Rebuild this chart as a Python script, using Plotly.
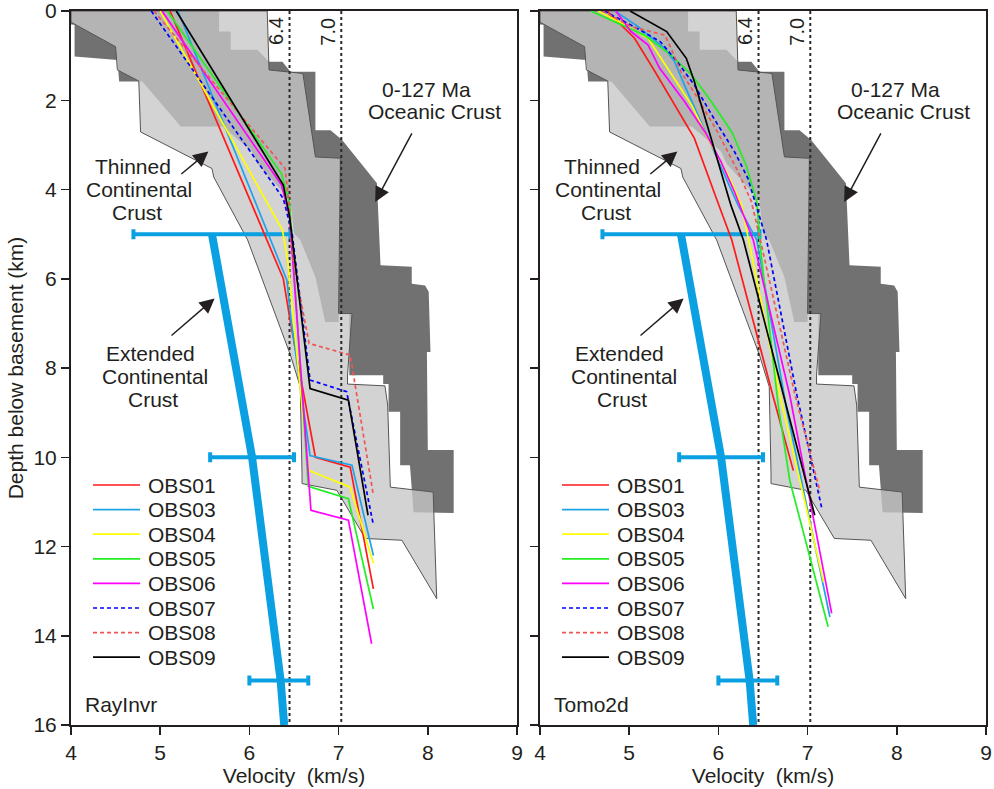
import plotly.graph_objects as go

# ---------------- data ----------------
VEL_TICKS = [4, 5, 6, 7, 8, 9]
DEPTH_TICKS = [0, 2, 4, 6, 8, 10, 12, 14, 16]

# 0-127 Ma oceanic crust envelope (velocity km/s, depth km)
OCEAN_V = [4.0, 5.66, 5.66, 5.79, 5.79, 6.09, 6.22, 6.37, 6.46, 6.74, 6.74, 6.91, 7.04, 7.43,
           7.47, 7.82, 7.82, 7.97, 8.01, 8.03, 7.99, 8.00, 8.29, 8.29, 7.84, 7.80, 7.69, 7.69,
           7.56, 7.56, 7.50, 7.50, 7.12, 7.12, 7.00, 7.00, 6.85, 6.74, 6.57, 6.50, 6.46, 6.09,
           6.03, 5.70, 5.23, 4.80, 4.54, 4.52, 4.04, 4.04, 4.0]
OCEAN_D = [0.0, 0.0, 0.46, 0.46, 0.87, 0.87, 1.14, 1.14, 1.36, 1.36, 2.67, 2.67, 2.89, 3.86,
           5.70, 5.73, 6.11, 6.15, 6.29, 7.64, 7.64, 9.84, 9.84, 11.25, 11.23, 10.18, 10.18, 8.98,
           8.98, 8.36, 8.36, 8.16, 8.16, 6.78, 6.78, 6.97, 6.97, 5.96, 5.13, 4.98, 4.24, 3.42,
           3.15, 2.59, 2.59, 1.58, 1.58, 1.10, 1.02, 0.31, 0.30]

# thinned continental crust envelope
THIN_V = [4.0, 6.20, 6.22, 6.60, 6.74, 7.02, 7.00, 7.15, 7.10, 7.10, 7.52, 7.55, 7.58, 8.06,
          8.10, 7.71, 7.30, 6.98, 6.59, 6.59, 6.57, 6.46, 5.98, 5.94, 5.60, 5.58, 4.78, 4.76,
          4.52, 4.50, 4.0, 4.0]
THIN_D = [0.0, 0.0, 1.32, 1.40, 3.27, 3.30, 6.78, 6.78, 8.16, 8.36, 8.40, 8.83, 10.67, 10.78,
          13.17, 11.86, 11.82, 10.74, 10.59, 10.37, 8.42, 7.71, 5.13, 4.98, 3.72, 3.53, 2.71, 1.57,
          1.32, 0.80, 0.25, 0.0]

# extended continental crust average and its spread
EXT_V = [5.58, 6.03, 6.35, 6.39]
EXT_D = [5, 10, 15, 16]
EXT_ERR_V = [5.58, 6.03, 6.33]
EXT_ERR_D = [5, 10, 15]
EXT_ERR = [0.88, 0.47, 0.33]

REF_X = [6.45, 7.03]
REF_LABELS = ["6.4", "7.0"]

OBS_NAMES = ["OBS01", "OBS03", "OBS04", "OBS05", "OBS06", "OBS07", "OBS08", "OBS09"]

# RayInvr profiles
RAY_OBS01_V = [5.11, 6.38, 6.46, 6.74, 7.13, 7.39]
RAY_OBS01_D = [0, 6.0, 6.97, 10.0, 10.22, 12.95]
RAY_OBS03_V = [5.20, 6.42, 6.47, 6.68, 7.15, 7.39]
RAY_OBS03_D = [0, 6.03, 6.97, 9.96, 10.18, 12.2]
RAY_OBS04_V = [5.00, 6.37, 6.43, 6.66, 7.13, 7.39]
RAY_OBS04_D = [0, 4.91, 5.6, 10.29, 10.67, 12.38]
RAY_OBS05_V = [5.08, 6.36, 6.45, 6.66, 7.11, 7.39]
RAY_OBS05_D = [0, 3.65, 4.3, 10.65, 10.93, 13.4]
RAY_OBS06_V = [5.02, 6.36, 6.45, 6.69, 7.11, 7.37]
RAY_OBS06_D = [0, 3.9, 4.6, 11.19, 11.41, 14.18]
RAY_OBS07_V = [4.90, 6.38, 6.48, 6.68, 7.09, 7.39]
RAY_OBS07_D = [0, 4.2, 5.0, 8.27, 8.53, 11.52]
RAY_OBS08_V = [4.93, 6.40, 6.44, 6.49, 6.67, 7.13, 7.39]
RAY_OBS08_D = [0, 3.53, 4.24, 5.6, 7.45, 7.71, 10.85]
RAY_OBS09_V = [5.18, 6.38, 6.45, 6.68, 7.11, 7.33]
RAY_OBS09_D = [0, 3.9, 4.6, 8.46, 8.72, 11.3]

# Tomo2d profiles
TOMO_OBS01_V = [4.75, 5.06, 5.29, 5.47, 5.73, 5.99, 6.15, 6.61, 6.84]
TOMO_OBS01_D = [0, 0.61, 1.36, 1.96, 2.85, 4.27, 5.13, 8.61, 10.3]
TOMO_OBS03_V = [4.84, 5.10, 5.40, 5.51, 5.62, 5.85, 6.07, 6.22, 6.43, 6.77, 7.25]
TOMO_OBS03_D = [0, 0.35, 0.84, 1.14, 1.66, 2.71, 3.68, 4.35, 5.13, 8.98, 13.58]
TOMO_OBS04_V = [4.65, 4.95, 5.21, 5.43, 5.70, 5.92, 6.11, 6.26, 6.34, 6.69, 7.18]
TOMO_OBS04_D = [0, 0.31, 0.61, 1.28, 2.11, 3.0, 3.68, 4.35, 5.13, 8.61, 12.8]
TOMO_OBS05_V = [4.57, 4.91, 5.17, 5.47, 5.70, 5.92, 6.15, 6.31, 6.43, 6.48, 6.67, 6.80, 7.23]
TOMO_OBS05_D = [0, 0.31, 0.54, 0.99, 1.43, 2.03, 2.71, 3.45, 4.27, 5.47, 8.83, 10.52, 13.8]
TOMO_OBS06_V = [4.85, 5.02, 5.21, 5.34, 5.62, 5.85, 6.03, 6.18, 6.39, 6.80, 7.27]
TOMO_OBS06_D = [0, 0.46, 0.76, 1.28, 2.03, 2.71, 3.38, 4.05, 5.13, 8.61, 13.5]
TOMO_OBS07_V = [4.72, 5.09, 5.35, 5.54, 5.73, 5.95, 6.18, 6.33, 6.41, 6.54, 6.88, 7.16]
TOMO_OBS07_D = [0, 0.39, 0.69, 1.14, 1.66, 2.41, 3.15, 3.75, 4.27, 5.13, 8.61, 11.15]
TOMO_OBS08_V = [4.70, 5.02, 5.40, 5.47, 5.58, 5.77, 5.99, 6.22, 6.37, 6.47, 6.86, 7.14]
TOMO_OBS08_D = [0, 0.35, 0.54, 0.84, 1.36, 1.96, 2.71, 3.60, 4.27, 5.13, 8.61, 10.78]
TOMO_OBS09_V = [5.01, 5.42, 5.64, 5.73, 6.14, 6.28, 6.73, 7.08]
TOMO_OBS09_D = [0, 0.46, 1.06, 1.58, 4.35, 5.13, 8.61, 11.3]

RAY = [(RAY_OBS01_V, RAY_OBS01_D), (RAY_OBS03_V, RAY_OBS03_D), (RAY_OBS04_V, RAY_OBS04_D),
       (RAY_OBS05_V, RAY_OBS05_D), (RAY_OBS06_V, RAY_OBS06_D), (RAY_OBS07_V, RAY_OBS07_D),
       (RAY_OBS08_V, RAY_OBS08_D), (RAY_OBS09_V, RAY_OBS09_D)]
TOMO = [(TOMO_OBS01_V, TOMO_OBS01_D), (TOMO_OBS03_V, TOMO_OBS03_D), (TOMO_OBS04_V, TOMO_OBS04_D),
        (TOMO_OBS05_V, TOMO_OBS05_D), (TOMO_OBS06_V, TOMO_OBS06_D), (TOMO_OBS07_V, TOMO_OBS07_D),
        (TOMO_OBS08_V, TOMO_OBS08_D), (TOMO_OBS09_V, TOMO_OBS09_D)]

# ---------------- styles / layout ----------------
OBS_STYLE = {
    "OBS01": ("#ff1a1a", "solid"),
    "OBS03": ("#1fa3e8", "solid"),
    "OBS04": ("#ffff00", "solid"),
    "OBS05": ("#22ee22", "solid"),
    "OBS06": ("#ff00ff", "solid"),
    "OBS07": ("#0000ff", "4px,3px"),
    "OBS08": ("#f05555", "4px,3px"),
    "OBS09": ("#000000", "solid"),
}
FONT = "Liberation Sans, Arial, Helvetica, sans-serif"
TXT = "#231f20"
BLUE = "#0aa0e2"
W, H = 994, 789

fig = go.Figure()

panels = [("x", "y", RAY, "RayInvr", 0), ("x2", "y2", TOMO, "Tomo2d", 469)]

for xa, ya, series, label, off in panels:
    fig.add_trace(go.Scatter(x=OCEAN_V, y=OCEAN_D, xaxis=xa, yaxis=ya, mode="lines",
                             fill="toself", fillcolor="#717171", line=dict(width=0),
                             showlegend=False, hoverinfo="skip"))
    fig.add_trace(go.Scatter(x=THIN_V, y=THIN_D, xaxis=xa, yaxis=ya, mode="lines",
                             fill="toself", fillcolor="rgba(199,199,199,0.78)",
                             line=dict(width=1, color="#555555"),
                             showlegend=False, hoverinfo="skip"))
    for rx in REF_X:
        fig.add_trace(go.Scatter(x=[rx, rx], y=[DEPTH_TICKS[0], DEPTH_TICKS[-1]], xaxis=xa, yaxis=ya,
                                 mode="lines", line=dict(color="#2a2a2a", width=2, dash="dot"),
                                 showlegend=False, hoverinfo="skip"))
    fig.add_trace(go.Scatter(x=EXT_V, y=EXT_D, xaxis=xa, yaxis=ya, mode="lines",
                             line=dict(color=BLUE, width=8), showlegend=False, hoverinfo="skip"))
    fig.add_trace(go.Scatter(x=EXT_ERR_V, y=EXT_ERR_D, xaxis=xa, yaxis=ya, mode="markers",
                             marker=dict(size=1, color=BLUE),
                             error_x=dict(type="data", array=EXT_ERR, color=BLUE, thickness=4, width=5),
                             showlegend=False, hoverinfo="skip"))
    for name, (v, d) in zip(OBS_NAMES, series):
        col, dash = OBS_STYLE[name]
        fig.add_trace(go.Scatter(x=v, y=d, xaxis=xa, yaxis=ya, mode="lines", name=name,
                                 line=dict(color=col, width=1.7, dash=dash), showlegend=False))
    # legend key drawn per panel (pixel layout)
    for i, name in enumerate(OBS_NAMES):
        col, dash = OBS_STYLE[name]
        py = 485 + i * 24.6
        fig.add_shape(type="line", xref="paper", yref="paper",
                      x0=(93 + off) / W, x1=(140 + off) / W, y0=1 - py / H, y1=1 - py / H,
                      line=dict(color=col, width=1.7, dash=dash))
        fig.add_annotation(x=(146 + off) / W, y=1 - py / H, xref="paper", yref="paper", text=name,
                           showarrow=False, xanchor="left", yanchor="middle",
                           font=dict(size=21, color=TXT, family=FONT))

axis_common = dict(range=[VEL_TICKS[0], VEL_TICKS[-1]], tickvals=VEL_TICKS, ticks="outside", ticklen=8,
                   tickwidth=1.5, tickcolor=TXT, showline=True, linecolor=TXT, linewidth=2, mirror=True,
                   showgrid=False, zeroline=False, automargin=False, ticklabeloverflow="allow",
                   tickfont=dict(size=21, color=TXT, family=FONT),
                   title=dict(text="Velocity\u00a0 (km/s)", font=dict(size=21, color=TXT, family=FONT), standoff=3))
yaxis_common = dict(range=[DEPTH_TICKS[-1], DEPTH_TICKS[0]], tickvals=DEPTH_TICKS, ticks="outside", ticklen=8,
                    tickwidth=1.5, tickcolor=TXT, showline=True, linecolor=TXT, linewidth=2, mirror=True,
                    showgrid=False, zeroline=False, automargin=False, ticklabeloverflow="allow",
                    tickfont=dict(size=21, color=TXT, family=FONT))

ydom = [1 - 725 / H, 1 - 11 / H]
fig.update_layout(
    width=W, height=H, margin=dict(l=0, r=0, t=0, b=0, autoexpand=False),
    paper_bgcolor="white", plot_bgcolor="white",
    font=dict(family=FONT, color=TXT),
    xaxis=dict(domain=[71 / W, 517 / W], anchor="y", **axis_common),
    xaxis2=dict(domain=[540 / W, 986 / W], anchor="y2", **axis_common),
    yaxis=dict(domain=ydom, anchor="x",
               title=dict(text="Depth below basement (km)", font=dict(size=21, color=TXT, family=FONT), standoff=4),
               **yaxis_common),
    yaxis2=dict(domain=ydom, anchor="x2", showticklabels=False, **yaxis_common),
    showlegend=False,
)

# text labels (same positions in both panels)
LABELS = [
    ("0-127 Ma", 7.99, 1.76), ("Oceanic Crust", 8.08, 2.26),
    ("Thinned", 4.70, 3.49), ("Continental", 4.76, 4.01), ("Crust", 4.74, 4.52),
    ("Extended", 4.89, 7.68), ("Continental", 4.94, 8.20), ("Crust", 4.92, 8.71),
]
ARROWS = [((7.83, 2.71), (7.41, 4.28)), ((5.22, 3.68), (5.54, 3.15)), ((5.11, 7.30), (5.61, 6.44))]

for xa, ya, series, label, off in panels:
    for txt, vx, dy in LABELS:
        fig.add_annotation(x=vx, y=dy, xref=xa, yref=ya, text=txt, showarrow=False,
                           font=dict(size=21, color=TXT, family=FONT))
    for (tx, ty), (hx, hy) in ARROWS:
        fig.add_annotation(x=hx, y=hy, ax=tx, ay=ty, xref=xa, yref=ya, axref=xa, ayref=ya, text="",
                           showarrow=True, arrowhead=2, arrowsize=2.0, arrowwidth=1.5, arrowcolor=TXT,
                           standoff=0)
    for rx, rl in zip(REF_X, REF_LABELS):
        fig.add_annotation(x=rx, y=0.1, xref=xa, yref=ya, text=rl, textangle=-90, showarrow=False,
                           xanchor="right", yanchor="top", font=dict(size=20, color=TXT, family=FONT))
    fig.add_annotation(x=4.13, y=15.54, xref=xa, yref=ya, text=label, showarrow=False, xanchor="left",
                       font=dict(size=21, color=TXT, family=FONT))

fig.write_html("out.html", config={"displayModeBar": False, "staticPlot": True},
               post_script="document.body.style.margin='0';document.body.style.overflow='hidden';")
